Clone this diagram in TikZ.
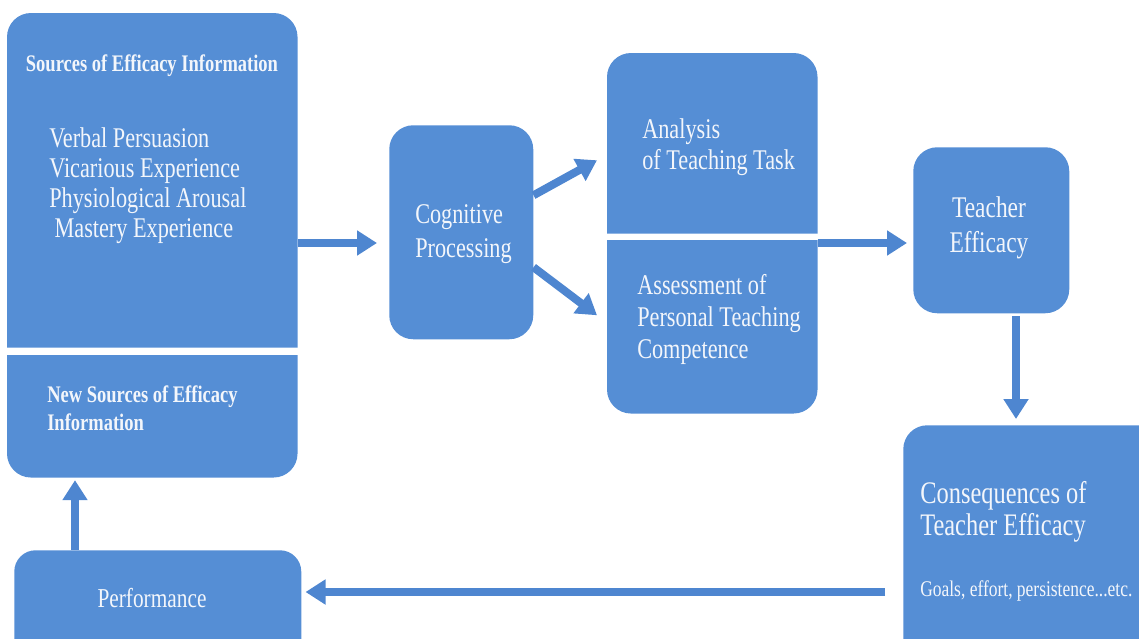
\documentclass[tikz,border=0pt]{standalone}
\usepackage{fontspec}
\setmainfont{Liberation Serif}[FakeStretch=0.78]
\usetikzlibrary{arrows.meta}
\usetikzlibrary{calc}
\usetikzlibrary{backgrounds}
\definecolor{boxblue}{RGB}{85,142,213}
\definecolor{arrowblue}{RGB}{78,134,208}
\definecolor{boxtext}{RGB}{243,246,251}

\tikzset{
  box/.style={fill=boxblue, rounded corners=18pt, inner sep=0pt, anchor=north west},
  halfbox/.style={inner sep=0pt, anchor=north west},
  maintext/.style={text=boxtext, inner sep=0pt, font=\fontsize{21.4}{24}\selectfont},
  headtext/.style={text=boxtext, inner sep=0pt, font=\bfseries\fontsize{17.8}{21}\selectfont},
  smalltext/.style={text=boxtext, inner sep=0pt, font=\fontsize{16.8}{20}\selectfont},
  flow/.style={draw=arrowblue, line width=6pt, -{Triangle[width=18pt,length=15pt]}},
}

\begin{document}
\begin{tikzpicture}[x=0.75pt,y=0.75pt,yscale=-1,xscale=1]
\useasboundingbox (0,0) rectangle (1139,639);

%Boxes
\node[halfbox, minimum width=217.5pt, minimum height=250.5pt] (src) at (7,13) {};
\node[halfbox, minimum width=217.5pt, minimum height=91.5pt] (newsrc) at (7,355) {};
\node[box, minimum width=108pt, minimum height=160.5pt] (cog) at (389,125) {};
\node[halfbox, minimum width=157.5pt, minimum height=135pt] (ana) at (607,53) {};
\node[halfbox, minimum width=157.5pt, minimum height=129.75pt] (asm) at (607,240) {};
\node[box, minimum width=117pt, minimum height=124.5pt] (teach) at (913,147) {};
\node[box, minimum width=195pt, minimum height=195pt] (cons) at (903,425) {};
\node[box, rounded corners=16pt, minimum width=215.25pt, minimum height=97.5pt] (perf) at (14,550) {};

%Split boxes, square on the inner side
\begin{scope}[on background layer]
\fill[boxblue] (src.south west) [rounded corners=18pt] -- (src.north west) -- (src.north east) [sharp corners] -- (src.south east) -- cycle;
\fill[boxblue] (newsrc.north west) -- (newsrc.north east) [rounded corners=18pt] -- (newsrc.south east) -- (newsrc.south west) [sharp corners] -- cycle;
\fill[boxblue] (ana.south west) [rounded corners=18pt] -- (ana.north west) -- (ana.north east) [sharp corners] -- (ana.south east) -- cycle;
\fill[boxblue] (asm.north west) -- (asm.north east) [rounded corners=18pt] -- (asm.south east) -- (asm.south west) [sharp corners] -- cycle;
\end{scope}

% Text Nodes (base = last line)
\node[headtext, anchor=base] (srchead) at (152,71) {Sources of Efficacy Information};
\node[maintext, anchor=base west, align=left, font=\fontsize{21.4}{22.5}\selectfont] (srclist) at (49,237) {Verbal Persuasion\\Vicarious Experience\\Physiological Arousal\\\hspace*{4pt}Mastery Experience};
\node[headtext, anchor=base west, align=left] (newsrctext) at (47,430) {New Sources of Efficacy\\Information};
\node[maintext, anchor=base west, align=left, font=\fontsize{21.4}{25.5}\selectfont] (cogtext) at (415,257) {Cognitive\\Processing};
\node[maintext, anchor=base west, align=left, font=\fontsize{21.4}{23}\selectfont] (anatext) at (642,169) {Analysis\\of Teaching Task};
\node[maintext, anchor=base west, align=left] (asmtext) at (637,358) {Assessment of\\Personal Teaching\\Competence};
\node[maintext, anchor=base, align=center, font=\fontsize{22.5}{26}\selectfont] (teachtext) at (989,252) {Teacher\\Efficacy};
\node[maintext, anchor=base west, align=left, font=\fontsize{23.5}{24}\selectfont] (constext) at (920,535) {Consequences of\\Teacher Efficacy};
\node[smalltext, anchor=base west] (goalstext) at (920,596) {Goals, effort, persistence...etc.};
\node[maintext, anchor=base, font=\fontsize{20.5}{22}\selectfont] (perftext) at (152,607) {Performance};

%Arrows
\coordinate (midline) at (0,243);
\draw[flow, shorten >=9pt] (src.east |- midline) -- (cog.west |- midline);
\draw[flow] ($(cog.east)+(0,-37)$) -- ($(ana.west)+(-10,17)$);
\draw[flow] ($(cog.east)+(0,35)$) -- ($(asm.west)+(-10,-11.5)$);
\draw[flow, shorten >=4.5pt] (ana.east |- midline) -- (teach.west |- midline);
\coordinate (downline) at (1016,0);
\draw[flow, shorten <=2pt, shorten >=4.5pt] (teach.south -| downline) -- (cons.north -| downline);
\coordinate (backline) at (0,592);
\draw[flow, shorten <=13.5pt, shorten >=3pt] (cons.west |- backline) -- (perf.east |- backline);
\coordinate (upline) at (75,0);
\draw[flow, shorten >=2pt] (perf.north -| upline) -- (newsrc.south -| upline);

\end{tikzpicture}
\end{document}
